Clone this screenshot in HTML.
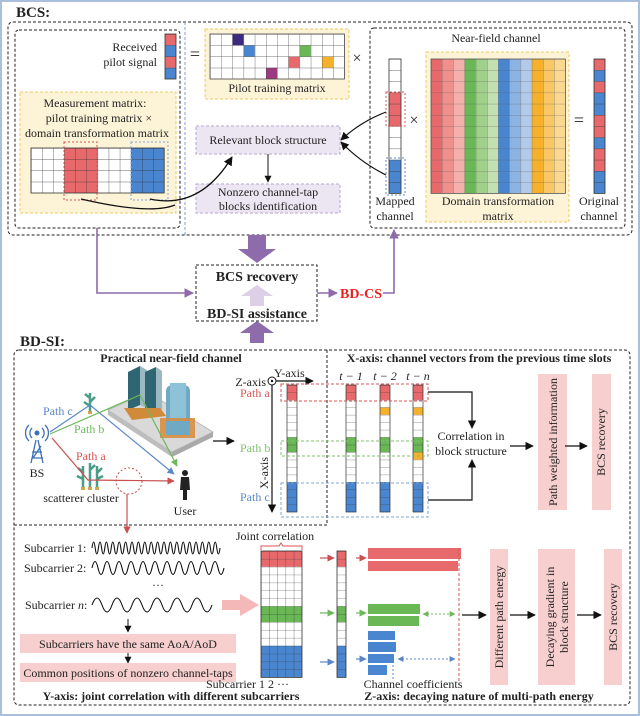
<!DOCTYPE html>
<html><head><meta charset="utf-8"><style>
html,body{margin:0;padding:0;background:#fff}
svg{display:block}
text{font-family:"Liberation Serif",serif;fill:#222}
.b{font-weight:bold}
</style></head><body>
<svg width="640" height="716" viewBox="0 0 640 716" xmlns="http://www.w3.org/2000/svg">
<defs>
<pattern id="pm" x="210" y="34" width="11.2" height="11.25" patternUnits="userSpaceOnUse"><path d="M0 0H11.2M0 0V11.25" stroke="#444" stroke-width="0.7" fill="none"/></pattern>
<pattern id="rv" x="0" y="34" width="20" height="11.25" patternUnits="userSpaceOnUse"><path d="M0 0H20" stroke="#333" stroke-width="0.7"/></pattern>
<pattern id="dm" x="431" y="59" width="11.2" height="11.2" patternUnits="userSpaceOnUse"><path d="M0 0H11.2M0 0V11.2" stroke="#555" stroke-width="0.6" fill="none"/></pattern>
<pattern id="hv" x="0" y="59" width="20" height="11.2" patternUnits="userSpaceOnUse"><path d="M0 0H20" stroke="#333" stroke-width="0.7"/></pattern>
<pattern id="mg" x="31" y="148" width="11.1" height="11.25" patternUnits="userSpaceOnUse"><path d="M0 0H11.1M0 0V11.25" stroke="#333" stroke-width="0.7" fill="none"/></pattern>
<pattern id="xv" x="0" y="385" width="20" height="7.47" patternUnits="userSpaceOnUse"><path d="M0 0H20" stroke="#333" stroke-width="0.6"/></pattern>
<pattern id="jm" x="261" y="551" width="8.2" height="7.9" patternUnits="userSpaceOnUse"><path d="M0 0H8.2M0 0V7.9" stroke="#333" stroke-width="0.6" fill="none"/></pattern>
<pattern id="jv" x="0" y="551" width="20" height="7.9" patternUnits="userSpaceOnUse"><path d="M0 0H20" stroke="#333" stroke-width="0.6"/></pattern>
<marker id="ak" viewBox="0 0 10 10" refX="9" refY="5" markerWidth="7" markerHeight="7" orient="auto-start-reverse"><path d="M0 0L10 5L0 10z" fill="#111"/></marker>
<marker id="ap" viewBox="0 0 10 10" refX="9" refY="5" markerWidth="6" markerHeight="6" orient="auto"><path d="M0 0L10 5L0 10z" fill="#8e6bab"/></marker>
<marker id="ar" viewBox="0 0 10 10" refX="9" refY="5" markerWidth="6" markerHeight="6" orient="auto"><path d="M0 0L10 5L0 10z" fill="#c8504f"/></marker>
<marker id="ab" viewBox="0 0 10 10" refX="9" refY="5" markerWidth="6" markerHeight="6" orient="auto-start-reverse"><path d="M0 0L10 5L0 10z" fill="#5b86c8"/></marker>
<marker id="ag" viewBox="0 0 10 10" refX="9" refY="5" markerWidth="6" markerHeight="6" orient="auto-start-reverse"><path d="M0 0L10 5L0 10z" fill="#6cb85a"/></marker>
</defs>

<rect x="1" y="1" width="638" height="714" fill="none" stroke="#a9bfdc" stroke-width="2"/>

<!-- ================= BCS ================= -->
<text x="16" y="17" class="b" font-size="15">BCS:</text>
<rect x="8" y="22" width="624" height="213" rx="5" fill="none" stroke="#222" stroke-dasharray="3,2"/>
<rect x="15" y="30" width="165" height="198" rx="4" fill="none" stroke="#222" stroke-dasharray="3,2"/>
<line x1="185" y1="22" x2="185" y2="235" stroke="#7fa4d6" stroke-dasharray="3,2"/>

<text x="157" y="51" font-size="12" text-anchor="end">Received</text>
<text x="157" y="66" font-size="12" text-anchor="end">pilot signal</text>
<rect x="165" y="34" width="11" height="11.25" fill="#e8696b"/><rect x="165" y="45.25" width="11" height="11.25" fill="#4a86d0"/>
<rect x="165" y="56.5" width="11" height="11.25" fill="#e8696b"/><rect x="165" y="67.75" width="11" height="11.25" fill="#4a86d0"/>
<rect x="165" y="34" width="11" height="45" fill="url(#rv)" stroke="#333" stroke-width="0.8"/>
<text x="195" y="60" font-size="18" text-anchor="middle">=</text>

<rect x="205" y="29" width="144" height="70" fill="#fdf4d8" stroke="#f0c860" stroke-dasharray="3,2"/>
<rect x="210" y="34" width="134.4" height="45" fill="#fff"/>
<rect x="232.4" y="34" width="11.2" height="11.25" fill="#3b2a7e"/>
<rect x="243.6" y="45.25" width="11.2" height="11.25" fill="#4a86d0"/>
<rect x="299.6" y="45.25" width="11.2" height="11.25" fill="#6ab756"/>
<rect x="288.4" y="56.5" width="11.2" height="11.25" fill="#e8696b"/>
<rect x="322" y="56.5" width="11.2" height="11.25" fill="#f5b12c"/>
<rect x="266" y="67.75" width="11.2" height="11.25" fill="#9b3a7e"/>
<rect x="210" y="34" width="134.4" height="45" fill="url(#pm)" stroke="#444" stroke-width="0.8"/>
<text x="277" y="92" font-size="12" text-anchor="middle">Pilot training matrix</text>
<text x="357" y="63" font-size="16" text-anchor="middle">×</text>

<!-- near field -->
<rect x="370" y="28" width="255" height="200" rx="4" fill="none" stroke="#222" stroke-dasharray="3,2"/>
<text x="496" y="42" font-size="12" text-anchor="middle">Near-field channel</text>
<rect x="389" y="59" width="12" height="134.4" fill="#fff"/>
<rect x="389" y="92.6" width="12" height="33.6" fill="#e8696b"/>
<rect x="389" y="159.8" width="12" height="33.6" fill="#4a86d0"/>
<rect x="389" y="59" width="12" height="134.4" fill="url(#hv)" stroke="#333" stroke-width="0.8"/>
<rect x="386" y="92" width="19" height="34" fill="none" stroke="#d9534f" stroke-dasharray="2,2"/>
<rect x="386" y="158" width="19" height="37" fill="none" stroke="#5b86c8" stroke-dasharray="2,2"/>
<text x="414" y="125" font-size="16" text-anchor="middle">×</text>

<rect x="426" y="52" width="143" height="170" fill="#fdf4d8" stroke="#f0c860" stroke-dasharray="3,2"/>
<rect x="431" y="59" width="11.2" height="134.4" fill="#e8696b"/>
<rect x="442.2" y="59" width="11.2" height="134.4" fill="#f08f8c"/>
<rect x="453.4" y="59" width="11.2" height="134.4" fill="#f4b0aa"/>
<rect x="464.6" y="59" width="11.2" height="134.4" fill="#6ab756"/>
<rect x="475.8" y="59" width="11.2" height="134.4" fill="#9fd08c"/>
<rect x="487" y="59" width="11.2" height="134.4" fill="#c2e0b0"/>
<rect x="498.2" y="59" width="11.2" height="134.4" fill="#4a86d0"/>
<rect x="509.4" y="59" width="11.2" height="134.4" fill="#8db3e2"/>
<rect x="520.6" y="59" width="11.2" height="134.4" fill="#b3cbe9"/>
<rect x="531.8" y="59" width="11.2" height="134.4" fill="#f5b12c"/>
<rect x="543" y="59" width="11.2" height="134.4" fill="#f8c864"/>
<rect x="554.2" y="59" width="11.2" height="134.4" fill="#fad88f"/>
<rect x="431" y="59" width="134.4" height="134.4" fill="url(#dm)" stroke="#555" stroke-width="0.8"/>
<text x="498" y="205" font-size="12" text-anchor="middle">Domain transformation</text>
<text x="498" y="220" font-size="12" text-anchor="middle">matrix</text>
<text x="579" y="126" font-size="18" text-anchor="middle">=</text>

<g>
<rect x="594" y="59" width="11" height="11.2" fill="#e8696b"/><rect x="594" y="70.2" width="11" height="11.2" fill="#4a86d0"/>
<rect x="594" y="81.4" width="11" height="11.2" fill="#e8696b"/><rect x="594" y="92.6" width="11" height="22.4" fill="#4a86d0"/>
<rect x="594" y="115" width="11" height="22.4" fill="#e8696b"/><rect x="594" y="137.4" width="11" height="11.2" fill="#4a86d0"/>
<rect x="594" y="148.6" width="11" height="22.4" fill="#e8696b"/><rect x="594" y="171" width="11" height="22.4" fill="#4a86d0"/>
<rect x="594" y="59" width="11" height="134.4" fill="url(#hv)" stroke="#333" stroke-width="0.8"/>
</g>
<text x="599" y="205" font-size="12" text-anchor="middle">Original</text>
<text x="599" y="220" font-size="12" text-anchor="middle">channel</text>
<text x="395" y="205" font-size="12" text-anchor="middle">Mapped</text>
<text x="395" y="220" font-size="12" text-anchor="middle">channel</text>

<!-- measurement -->
<rect x="20" y="92" width="156" height="121" fill="#fdf4d8" stroke="#f0c860" stroke-dasharray="3,2"/>
<text x="95" y="107" font-size="12" text-anchor="middle">Measurement matrix:</text>
<text x="99" y="122" font-size="12" text-anchor="middle">pilot training matrix ×</text>
<text x="97" y="137" font-size="12" text-anchor="middle">domain transformation matrix</text>
<rect x="31" y="148" width="133.2" height="45" fill="#fff"/>
<rect x="64.3" y="148" width="33.3" height="45" fill="#e8696b"/>
<rect x="130.9" y="148" width="33.3" height="45" fill="#4a86d0"/>
<rect x="31" y="148" width="133.2" height="45" fill="url(#mg)" stroke="#333" stroke-width="0.8"/>
<rect x="64" y="142" width="33" height="58" fill="none" stroke="#d9534f" stroke-dasharray="2,2"/>
<rect x="131" y="142" width="37" height="58" fill="none" stroke="#7fa4d6" stroke-dasharray="2,2"/>

<rect x="196" y="126" width="144" height="28" fill="#ece6f2" stroke="#b9a6cf" stroke-dasharray="3,2"/>
<text x="268" y="144" font-size="12" text-anchor="middle">Relevant block structure</text>
<line x1="268" y1="154" x2="268" y2="182" stroke="#111" marker-end="url(#ak)"/>
<rect x="196" y="184" width="144" height="29" fill="#ece6f2" stroke="#b9a6cf" stroke-dasharray="3,2"/>
<text x="268" y="196" font-size="12" text-anchor="middle">Nonzero channel-tap</text>
<text x="268" y="210" font-size="12" text-anchor="middle">blocks identification</text>
<path d="M81 199 Q150 215 175 205" fill="none" stroke="#111" stroke-width="1.3"/>
<path d="M150 199 Q200 210 232 157" fill="none" stroke="#111" stroke-width="1.3" marker-end="url(#ak)"/>
<path d="M386 112 Q360 122 341 140" fill="none" stroke="#111" stroke-width="1.2" marker-end="url(#ak)"/>
<path d="M386 175 Q360 162 341 142" fill="none" stroke="#111" stroke-width="1.2" marker-end="url(#ak)"/>

<!-- purple connections -->
<path d="M97 228 V293 H193" fill="none" stroke="#8e6bab" stroke-width="1.6" marker-end="url(#ap)"/>
<path d="M248 235 H266 V249 H276 L257 263 L238 249 H248 Z" fill="#8e6bab"/>
<rect x="196" y="265" width="121" height="56" fill="#fff" stroke="#222" stroke-dasharray="3,2"/>
<text x="257" y="281" class="b" font-size="14" text-anchor="middle">BCS recovery</text>
<path d="M250 306 V296 H241 L257 285 L273 296 H264 V306 Z" fill="#ddd0e6"/>
<text x="257" y="318" class="b" font-size="14" text-anchor="middle">BD-SI assistance</text>
<line x1="317" y1="293" x2="337" y2="293" stroke="#8e6bab" stroke-width="1.6" marker-end="url(#ap)"/>
<text x="340" y="298" class="b" font-size="14" fill="#e02020" style="fill:#e82020">BD-CS</text>
<path d="M383 293 H394 V230" fill="none" stroke="#8e6bab" stroke-width="1.6" marker-end="url(#ap)"/>
<path d="M250 343 V333 H240 L257 321 L274 333 H264 V343 Z" fill="#8e6bab"/>

<!-- ================= BD-SI ================= -->
<text x="20" y="346" class="b" font-size="15">BD-SI:</text>
<rect x="14" y="350" width="616" height="355" rx="5" fill="none" stroke="#222" stroke-dasharray="3,2"/>
<path d="M14 525 H327 V350" fill="none" stroke="#222" stroke-dasharray="3,2"/>
<text x="171" y="362" class="b" font-size="12" text-anchor="middle">Practical near-field channel</text>
<text x="479" y="362" class="b" font-size="12" text-anchor="middle">X-axis: channel vectors from the previous time slots</text>

<!-- city illustration -->
<path d="M108 410 L147 392 L213 432 L172 452 Z" fill="#d9d9d9" stroke="#bbb"/>
<path d="M172 452 L213 432 L213 437 L172 457 Z" fill="#a9a9a9"/>
<path d="M108 410 L172 452 L172 457 L108 415 Z" fill="#bdbdbd"/>
<path d="M128 372 L140 366 L140 405 L128 410 Z" fill="#2f6673"/>
<path d="M140 366 L147 370 L147 408 L140 405 Z" fill="#9cb8c0"/>
<path d="M145 372 L156 367 L156 408 L145 412 Z" fill="#2f6673"/>
<path d="M156 367 L162 371 L162 410 L156 408 Z" fill="#9cb8c0"/>
<path d="M124 408 L160 408 L166 416 L132 420 Z" fill="#d08a3a"/>
<rect x="166" y="385" width="24" height="50" rx="6" fill="#6fa9c4"/>
<rect x="170" y="383" width="16" height="50" fill="#8dc2d8"/>
<path d="M160 418 L195 418 L195 438 L160 438 Z" fill="#d88a3a" opacity="0.85"/>
<rect x="166" y="421" width="24" height="14" fill="#6fa9c4"/>
<!-- trees -->
<path d="M90 393 V412 M90 398 L85 394 M90 402 L95 397 M90 406 L84 402" stroke="#4a9e88" stroke-width="2.5" fill="none"/>
<rect x="88" y="411" width="4" height="3" fill="#d2a64a"/>
<path d="M83 466 V487 M90 463 V487 M97 466 V487 M83 472 L78 468 M90 470 L95 465 M97 473 L102 468 M83 479 L77 476 M97 479 L103 476" stroke="#4a9e88" stroke-width="2.5" fill="none"/>
<rect x="81" y="487" width="4" height="3" fill="#d2a64a"/><rect x="88" y="487" width="4" height="3" fill="#d2a64a"/><rect x="95" y="487" width="4" height="3" fill="#d2a64a"/>
<!-- BS -->
<path d="M36 440 L31 463 M38 440 L43 463 M32 452 L42 452 M33 458 L41 446 M32 458 L43 458" stroke="#3e6fb5" stroke-width="1.3" fill="none"/>
<circle cx="37" cy="433" r="2.5" fill="#3e6fb5"/>
<path d="M32 428 A7 7 0 0 0 32 438 M42 428 A7 7 0 0 1 42 438 M29 425 A11 11 0 0 0 29 441 M45 425 A11 11 0 0 1 45 441" stroke="#3e6fb5" stroke-width="1.3" fill="none"/>
<text x="37" y="477" font-size="12" text-anchor="middle">BS</text>
<!-- paths -->
<path d="M50 432 L90 405 L174 474" fill="none" stroke="#5b86c8" stroke-width="1.2" marker-end="url(#ab)"/>
<path d="M50 434 L140 395 L177 466" fill="none" stroke="#6cb85a" stroke-width="1.2" marker-end="url(#ag)"/>
<path d="M52 438 L88 480 L174 481" fill="none" stroke="#c8504f" stroke-width="1.2" marker-end="url(#ar)"/>
<text x="43" y="415" font-size="12" fill="#5b86c8" style="fill:#5b86c8">Path c</text>
<text x="74" y="433" font-size="12" style="fill:#6cb85a">Path b</text>
<text x="76" y="460" font-size="12" style="fill:#d9534f">Path a</text>
<circle cx="129" cy="481" r="13" fill="none" stroke="#c8504f" stroke-dasharray="2,2"/>
<text x="81" y="502" font-size="12" text-anchor="middle">scatterer cluster</text>
<!-- user -->
<circle cx="185" cy="473" r="3" fill="#222"/>
<path d="M181 477 H189 L190 490 H187 L187 500 H183 L183 490 H180 Z" fill="#222"/>
<text x="185" y="515" font-size="12" text-anchor="middle">User</text>
<line x1="127" y1="494" x2="127" y2="533" stroke="#c8504f" stroke-width="1.2" marker-end="url(#ar)"/>
<line x1="213" y1="441" x2="234" y2="441" stroke="#111" stroke-width="1.2" marker-end="url(#ak)"/>

<!-- axes -->
<circle cx="272" cy="381" r="4" fill="#fff" stroke="#111"/><circle cx="272" cy="381" r="1.2" fill="#111"/>
<text x="266" y="386" font-size="12" text-anchor="end">Z-axis</text>
<text x="274" y="377" font-size="12">Y-axis</text>
<line x1="276" y1="381" x2="313" y2="381" stroke="#111" stroke-width="1.2" marker-end="url(#ak)"/>
<line x1="272" y1="385" x2="272" y2="512" stroke="#111" stroke-width="1.2" marker-end="url(#ak)"/>
<text x="0" y="0" font-size="12" text-anchor="middle" transform="translate(268 473) rotate(-90)">X-axis</text>
<text x="240" y="397" font-size="12" style="fill:#d9534f">Path a</text>
<text x="240" y="452" font-size="12" style="fill:#7cc06a">Path b</text>
<text x="240" y="501" font-size="12" style="fill:#5b86c8">Path c</text>
<text x="351" y="380" font-size="12" text-anchor="middle" font-style="italic">t − 1</text>
<text x="385" y="380" font-size="12" text-anchor="middle" font-style="italic">t − 2</text>
<text x="418" y="380" font-size="12" text-anchor="middle" font-style="italic">t − n</text>

<g>
<rect x="287" y="385" width="10" height="127" fill="#fff"/>
<rect x="287" y="385" width="10" height="14.94" fill="#e8696b"/><rect x="287" y="437.3" width="10" height="14.94" fill="#6ab756"/><rect x="287" y="482.1" width="10" height="29.9" fill="#4a86d0"/>
<rect x="287" y="385" width="10" height="127" fill="url(#xv)" stroke="#333" stroke-width="0.7"/>
<rect x="346" y="385" width="10" height="127" fill="#fff"/>
<rect x="346" y="385" width="10" height="14.94" fill="#e8696b"/><rect x="346" y="437.3" width="10" height="14.94" fill="#6ab756"/><rect x="346" y="482.1" width="10" height="29.9" fill="#4a86d0"/>
<rect x="346" y="385" width="10" height="127" fill="url(#xv)" stroke="#333" stroke-width="0.7"/>
<rect x="380" y="385" width="10" height="127" fill="#fff"/>
<rect x="380" y="385" width="10" height="14.94" fill="#e8696b"/><rect x="380" y="407.4" width="10" height="7.47" fill="#f5b12c"/><rect x="380" y="437.3" width="10" height="14.94" fill="#6ab756"/><rect x="380" y="482.1" width="10" height="29.9" fill="#4a86d0"/>
<rect x="380" y="385" width="10" height="127" fill="url(#xv)" stroke="#333" stroke-width="0.7"/>
<rect x="413" y="385" width="10" height="127" fill="#fff"/>
<rect x="413" y="385" width="10" height="14.94" fill="#e8696b"/><rect x="413" y="407.4" width="10" height="7.47" fill="#f5b12c"/><rect x="413" y="437.3" width="10" height="14.94" fill="#6ab756"/><rect x="413" y="452.2" width="10" height="7.47" fill="#f5b12c"/><rect x="413" y="482.1" width="10" height="29.9" fill="#4a86d0"/>
<rect x="413" y="385" width="10" height="127" fill="url(#xv)" stroke="#333" stroke-width="0.7"/>
</g>
<rect x="281" y="384" width="147" height="17" fill="none" stroke="#d9534f" stroke-dasharray="3,2"/>
<rect x="281" y="441" width="147" height="15" fill="none" stroke="#7cc06a" stroke-dasharray="3,2"/>
<rect x="281" y="483" width="147" height="34" fill="none" stroke="#7fa4d6" stroke-dasharray="3,2"/>
<path d="M428 392 H472 V428" fill="none" stroke="#111" stroke-width="1.2" marker-end="url(#ak)"/>
<path d="M428 500 H472 V460" fill="none" stroke="#111" stroke-width="1.2" marker-end="url(#ak)"/>
<text x="471" y="440" font-size="12" text-anchor="middle">Correlation in</text>
<text x="471" y="455" font-size="12" text-anchor="middle">block structure</text>
<line x1="510" y1="446" x2="533" y2="446" stroke="#111" stroke-width="1.2" marker-end="url(#ak)"/>
<rect x="538" y="374" width="29" height="136" fill="#f7cfcf"/>
<text x="0" y="0" font-size="12" text-anchor="middle" transform="translate(557 442) rotate(-90)">Path weighted information</text>
<line x1="565" y1="446" x2="587" y2="446" stroke="#111" stroke-width="1.2" marker-end="url(#ak)"/>
<rect x="592" y="374" width="19" height="136" fill="#f7cfcf"/>
<text x="0" y="0" font-size="12" text-anchor="middle" transform="translate(605 442) rotate(-90)">BCS recovery</text>

<!-- subcarriers -->
<text x="24" y="552" font-size="12">Subcarrier 1:</text>
<path d="M92 548 q1.6,-12 3.2,0 t3.2,0 t3.2,0 t3.2,0 t3.2,0 t3.2,0 t3.2,0 t3.2,0 t3.2,0 t3.2,0 t3.2,0 t3.2,0 t3.2,0 t3.2,0 t3.2,0 t3.2,0 t3.2,0 t3.2,0 t3.2,0 t3.2,0 t3.2,0 t3.2,0 t3.2,0 t3.2,0 t3.2,0 t3.2,0 t3.2,0 t3.2,0 t3.2,0 t3.2,0 t3.2,0 t3.2,0 t3.2,0 t3.2,0 t3.2,0 t3.2,0 t3.2,0 t3.2,0 t3.2,0 t3.2,0" fill="none" stroke="#111" stroke-width="1.1"/>
<text x="24" y="572" font-size="12">Subcarrier 2:</text>
<path d="M92 568 q3,-13 6,0 t6,0 t6,0 t6,0 t6,0 t6,0 t6,0 t6,0 t6,0 t6,0 t6,0 t6,0 t6,0 t6,0 t6,0 t6,0 t6,0 t6,0 t6,0 t6,0 t6,0 t6,0" fill="none" stroke="#111" stroke-width="1.1"/>
<text x="158" y="589" font-size="12" text-anchor="middle">···</text>
<text x="25" y="609" font-size="12">Subcarrier <tspan font-style="italic">n</tspan>:</text>
<path d="M92 605 q5,-14 10,0 t10,0 t10,0 t10,0 t10,0 t10,0 t10,0 t10,0 t10,0 t10,0 t10,0 t10,0" fill="none" stroke="#111" stroke-width="1.1"/>
<path d="M222 600 H240 V594 L259 605 L240 616 V610 H222 Z" fill="#f4b8b8"/>
<line x1="128" y1="619" x2="128" y2="632" stroke="#111" marker-end="url(#ak)"/>
<rect x="20" y="634" width="216" height="19" fill="#f7cfcf"/>
<text x="128" y="648" font-size="12" text-anchor="middle">Subcarriers have the same AoA/AoD</text>
<line x1="128" y1="653" x2="128" y2="663" stroke="#111" marker-end="url(#ak)"/>
<rect x="20" y="663" width="216" height="19" fill="#f7cfcf"/>
<text x="128" y="677" font-size="12" text-anchor="middle">Common positions of nonzero channel-taps</text>
<text x="206" y="688" font-size="12">Subcarrier 1 2 ···</text>
<text x="171" y="700" class="b" font-size="12" text-anchor="middle">Y-axis: joint correlation with different subcarriers</text>

<text x="275" y="540" font-size="12" text-anchor="middle">Joint correlation</text>
<path d="M261 550 V546 H279 L281 543 L283 546 H302 V550" fill="none" stroke="#d9534f" stroke-width="1"/>
<rect x="261" y="551" width="41" height="126.4" fill="#fff"/>
<rect x="261" y="551" width="41" height="15.8" fill="#e8696b"/>
<rect x="261" y="606.3" width="41" height="15.8" fill="#6ab756"/>
<rect x="261" y="645.8" width="41" height="31.6" fill="#4a86d0"/>
<rect x="261" y="551" width="41" height="126.4" fill="url(#jm)" stroke="#333" stroke-width="0.8"/>

<rect x="337" y="551" width="9" height="126.4" fill="#fff"/>
<rect x="337" y="551" width="9" height="15.8" fill="#e8696b"/>
<rect x="337" y="606.3" width="9" height="15.8" fill="#6ab756"/>
<rect x="337" y="645.8" width="9" height="31.6" fill="#4a86d0"/>
<rect x="337" y="551" width="9" height="126.4" fill="url(#jv)" stroke="#333" stroke-width="0.8"/>
<line x1="320" y1="558" x2="334" y2="558" stroke="#c8504f" stroke-width="1.2" marker-end="url(#ar)"/>
<line x1="356" y1="558" x2="366" y2="558" stroke="#c8504f" stroke-width="1.2" marker-end="url(#ar)"/>
<line x1="320" y1="613" x2="334" y2="613" stroke="#6cb85a" stroke-width="1.2" marker-end="url(#ag)"/>
<line x1="356" y1="613" x2="366" y2="613" stroke="#6cb85a" stroke-width="1.2" marker-end="url(#ag)"/>
<line x1="320" y1="662" x2="334" y2="662" stroke="#5b86c8" stroke-width="1.2" marker-end="url(#ab)"/>
<line x1="356" y1="659" x2="366" y2="659" stroke="#5b86c8" stroke-width="1.2" marker-end="url(#ab)"/>

<rect x="368" y="548" width="93" height="11" fill="#e8696b"/>
<rect x="368" y="561" width="90" height="10" fill="#e8696b"/>
<line x1="459" y1="548" x2="459" y2="685" stroke="#d9534f" stroke-dasharray="3,2"/>
<rect x="368" y="604" width="52" height="10" fill="#6ab756"/>
<rect x="368" y="616" width="51" height="10" fill="#6ab756"/>
<rect x="368" y="631" width="27" height="9" fill="#4a86d0"/>
<rect x="368" y="642" width="28" height="10" fill="#4a86d0"/>
<rect x="368" y="654" width="26" height="9" fill="#4a86d0"/>
<rect x="368" y="665" width="19" height="10" fill="#4a86d0"/>
<line x1="393" y1="665" x2="393" y2="680" stroke="#5b86c8" stroke-dasharray="2,2"/>
<line x1="423" y1="614" x2="455" y2="614" stroke="#6cb85a" stroke-dasharray="2,2" marker-start="url(#ag)" marker-end="url(#ag)"/>
<line x1="398" y1="659" x2="455" y2="659" stroke="#5b86c8" stroke-dasharray="2,2" marker-start="url(#ab)" marker-end="url(#ab)"/>
<text x="413" y="688" font-size="12" text-anchor="middle">Channel coefficients</text>
<text x="479" y="700" class="b" font-size="12" text-anchor="middle">Z-axis: decaying nature of multi-path energy</text>

<line x1="462" y1="615" x2="486" y2="615" stroke="#111" stroke-width="1.2" marker-end="url(#ak)"/>
<rect x="490" y="549" width="18" height="136" fill="#f7cfcf"/>
<text x="0" y="0" font-size="12" text-anchor="middle" transform="translate(503 617) rotate(-90)">Different path energy</text>
<line x1="510" y1="615" x2="535" y2="615" stroke="#111" stroke-width="1.2" marker-end="url(#ak)"/>
<rect x="538" y="549" width="37" height="136" fill="#f7cfcf"/>
<text x="0" y="0" font-size="12" text-anchor="middle" transform="translate(554 617) rotate(-90)">Decaying gradient in</text>
<text x="0" y="0" font-size="12" text-anchor="middle" transform="translate(568 617) rotate(-90)">block structure</text>
<line x1="577" y1="615" x2="601" y2="615" stroke="#111" stroke-width="1.2" marker-end="url(#ak)"/>
<rect x="604" y="549" width="18" height="136" fill="#f7cfcf"/>
<text x="0" y="0" font-size="12" text-anchor="middle" transform="translate(617 617) rotate(-90)">BCS recovery</text>
</svg>
</body></html>
